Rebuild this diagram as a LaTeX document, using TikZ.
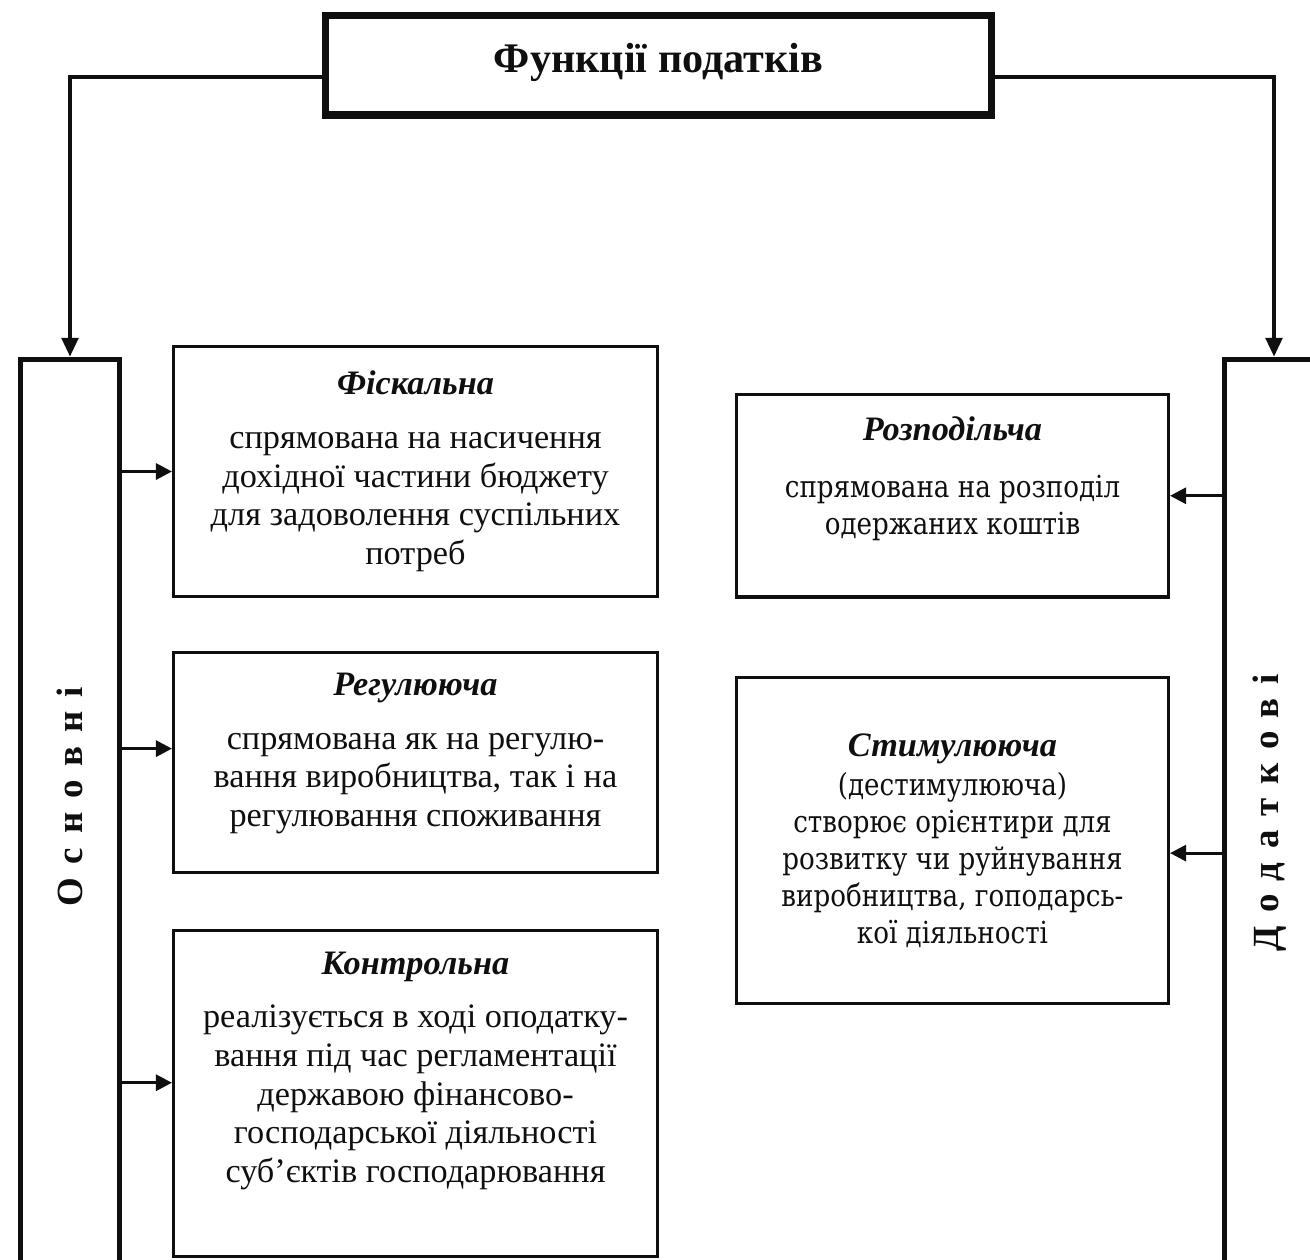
\documentclass[tikz,border=0pt]{standalone}
\usepackage{fontspec}
\setmainfont{Liberation Serif}
\newfontfamily\widefont[FakeStretch=0.86]{DejaVu Serif}
\newfontfamily\spacedfont[LetterSpace=38]{Liberation Serif}
\usepackage{tikz}
\usetikzlibrary{positioning,arrows.meta}
\usepackage{xcolor}
\definecolor{InkBlack}{RGB}{15,15,15}
\newcommand{\fname}[1]{{\rmfamily\bfseries\itshape\fontsize{19.5}{22}\selectfont #1}}

\begin{document}
\begin{tikzpicture}[x=0.02cm, y=-0.02cm,
    box/.style={rectangle, draw=InkBlack, line width=1.8pt, minimum width=9.68cm,
        inner sep=0pt, align=center, text=InkBlack, font=\fontsize{19.5}{22}\selectfont},
    rbox/.style={box, minimum width=8.64cm, font=\widefont\fontsize{17.3}{21}\selectfont},
    column/.style={rectangle, draw=InkBlack, line width=3pt, minimum width=1.98cm,
        minimum height=18.8cm, inner sep=0pt},
    headbox/.style={rectangle, draw=InkBlack, line width=4pt, minimum width=13.34cm,
        minimum height=2cm, text=InkBlack, font=\bfseries\fontsize{24}{28}\selectfont},
    coltext/.style={rotate=90, text=InkBlack, font=\spacedfont\bfseries\fontsize{21}{24}\selectfont},
    arr/.style={-{Triangle[length=0.32cm, width=0.32cm]}, line width=1.7pt, InkBlack},
    link/.style={-{Triangle[length=0.38cm, width=0.32cm]}, line width=2.8pt, InkBlack},
]
\useasboundingbox (0,0) rectangle (1310,1259);
\clip (0,0) rectangle (1310,1259);

\node[headbox, text depth=0.3cm] (title) at (658.5,65) {Функції податків};

\node[column] (osn) at (70,829.5) {};
\node[column] (dod) at (1274,829.5) {};
\node[coltext] (osnlabel) at (70,797) {Основні};
\node[coltext] (dodlabel) at (1270,813) {Додаткові};

\node[box, minimum height=5cm] (fisc) at (415.5,471.5) {\fname{Фіскальна}\\[0.3cm]
    спрямована на насичення\\ дохідної частини бюджету\\ для задоволення суспільних\\ потреб};
\node[box, minimum height=4.4cm, text depth=0.5cm, below=1.05cm of fisc] (regul) {\fname{Регулююча}\\[0.3cm]
    спрямована як на регулю-\\ вання виробництва, так і на\\ регулювання споживання};
\node[box, minimum height=6.52cm, text depth=1.05cm, below=1.1cm of regul] (kontr) {\fname{Контрольна}\\[0.3cm]
    реалізується в ході оподатку-\\ вання під час регламентації\\ державою фінансово-\\
    господарської діяльності\\ суб’єктів господарювання};

\node[rbox, minimum height=4.05cm, text depth=0.8cm] (rozp) at (952.5,495.75) {\fname{Розподільча}\\[0.4cm]
    спрямована на розподіл\\ одержаних коштів};
\node[rbox, minimum height=6.52cm, below=1.55cm of rozp] (stim) {\fname{Стимулююча}\\[0.05cm]
    (дестимулююча)\\ створює орієнтири для\\ розвитку чи руйнування\\
    виробництва, гоподарсь-\\ кої діяльності};

\draw[link] ([yshift=-0.24cm]title.west) -| (osn.north);
\draw[link] ([yshift=-0.24cm]title.east) -| (dod.north);

\draw[arr] (fisc.west -| osn.east) -- (fisc.west);
\draw[arr] ([yshift=0.27cm]regul.west -| osn.east) -- ([yshift=0.27cm]regul.west);
\draw[arr] ([yshift=0.21cm]kontr.west -| osn.east) -- ([yshift=0.21cm]kontr.west);
\draw[arr] (rozp.east -| dod.west) -- (rozp.east);
\draw[arr] ([yshift=-0.25cm]stim.east -| dod.west) -- ([yshift=-0.25cm]stim.east);
\end{tikzpicture}
\end{document}
